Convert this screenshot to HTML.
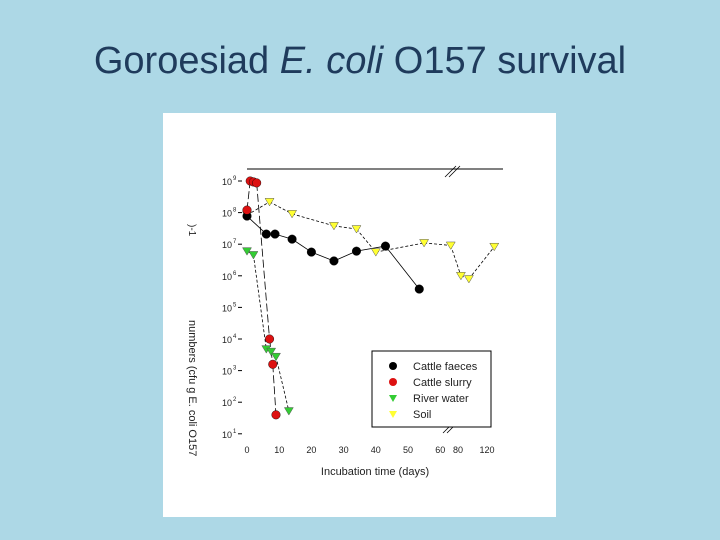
<!DOCTYPE html>
<html><head><meta charset="utf-8"><style>
body{margin:0;width:720px;height:540px;background:#add8e6;overflow:hidden;font-family:"Liberation Sans",sans-serif}
#title{position:absolute;left:0;width:720px;top:40px;text-align:center;font-size:38px;color:#1f3b5c}
</style></head><body>
<div id="title">Goroesiad <i>E. coli</i> O157 survival</div>
<svg width="720" height="540" style="position:absolute;left:0;top:0">
<rect x="163" y="113" width="393" height="404" fill="#fff"/>
<g id="g"></g>
</svg>
<script>
const yTicks=[9,8,7,6,5,4,3,2,1];
const xTicks=[0,10,20,30,40,50,60,80,120];
const faecesX=[0,6,8.7,14,20,27,34,43,53.5];
const faecesY=[7.89,7.32,7.32,7.16,6.75,6.47,6.78,6.94,5.58];
const slurryX=[0,1,2,3,7,8,9];
const slurryY=[8.08,9.0,8.97,8.94,4.0,3.2,1.6];
const riverX=[0,2,6,7.5,9,13];
const riverY=[6.78,6.66,3.68,3.6,3.44,1.72];
const soilX=[0,7,14,27,34,40,55,70,84,95,130];
const soilY=[7.92,8.34,7.96,7.58,7.48,6.75,7.04,6.96,6.0,5.9,6.92];
const NS='http://www.w3.org/2000/svg',g=document.getElementById('g');
function X(d){return d<=60?247+3.22*d:458+(d-80)*0.725;}
function Y(v){return 181+(9-v)*31.6;}
function el(t,a){const e=document.createElementNS(NS,t);for(const k in a)e.setAttribute(k,a[k]);g.appendChild(e);return e;}
let e=el('line',{x1:247,y1:169,x2:503,y2:169,stroke:'#000'});


el('line',{x1:445,y1:177,x2:456,y2:166,stroke:'#000','stroke-width':0.8});
el('line',{x1:449,y1:177,x2:460,y2:166,stroke:'#000','stroke-width':0.8});
el('line',{x1:443,y1:433,x2:454,y2:422,stroke:'#000','stroke-width':0.8});
el('line',{x1:447,y1:433,x2:458,y2:422,stroke:'#000','stroke-width':0.8});
yTicks.forEach(v=>{
 const t=el('text',{x:222,y:Y(v)+4,'font-size':9,fill:'#222'});t.textContent='10';
 
 
 const s=el('text',{x:233,y:Y(v)-1,'font-size':6,fill:'#222'});s.textContent=v;
 el('line',{x1:238,y1:Y(v),x2:242,y2:Y(v),stroke:'#000'});
});
xTicks.forEach(d=>{
 const t=el('text',{x:X(d),y:453,'font-size':9,'text-anchor':'middle',fill:'#222'});t.textContent=d;
 
 
});
e=el('text',{x:375,y:475,'font-size':11,'text-anchor':'middle',fill:'#222'});e.textContent='Incubation time (days)';


e=el('text',{x:0,y:0,'font-size':11,fill:'#222',transform:'translate(189,320) rotate(90)'});e.textContent='numbers (cfu g E. coli O157';


e=el('text',{x:0,y:0,'font-size':10,fill:'#222',transform:'translate(189,224) rotate(90)'});e.textContent=')-1';
function line(xs,ys,dash){for(let i=1;i<xs.length;i++){el('line',{x1:X(xs[i-1]),y1:Y(ys[i-1]),x2:X(xs[i]),y2:Y(ys[i]),stroke:'#000','stroke-width':0.8,'stroke-dasharray':dash});}}
line(faecesX,faecesY,'none');line(slurryX,slurryY,'8,3');line(riverX,riverY,'3,2');line(soilX,soilY,'3,2');
function dots(xs,ys,col,name){xs.forEach((d,i)=>{const c=el('circle',{cx:X(d),cy:Y(ys[i]),r:4.3,fill:col,stroke:'#000','stroke-width':0.4});

});}
function tris(xs,ys,col,name){xs.forEach((d,i)=>{const x=X(d),y=Y(ys[i]);const p=el('polygon',{points:`${x-4.5},${y-3.5} ${x+4.5},${y-3.5} ${x},${y+4}`,fill:col,stroke:'#555','stroke-width':0.5});

});}
tris(soilX,soilY,'#ffff33','soil-point');tris(riverX,riverY,'#33cc33','river-water-point');
dots(faecesX,faecesY,'#000','cattle-faeces-point');dots(slurryX,slurryY,'#dd1111','cattle-slurry-point');
e=el('rect',{x:372,y:351,width:119,height:76,fill:'#fff',stroke:'#000'});


const lg=[['Cattle faeces','#000','c'],['Cattle slurry','#dd1111','c'],['River water','#33cc33','t'],['Soil','#ffff33','t']];
lg.forEach((l,i)=>{const y=366+i*16;
 if(l[2]=='c')el('circle',{cx:393,cy:y,r:4,fill:l[1]});else el('polygon',{points:`389,${y-3} 397,${y-3} 393,${y+4}`,fill:l[1]});
 const t=el('text',{x:413,y:y+4,'font-size':11,fill:'#222'});t.textContent=l[0];
 
 });
</script>
</body></html>
